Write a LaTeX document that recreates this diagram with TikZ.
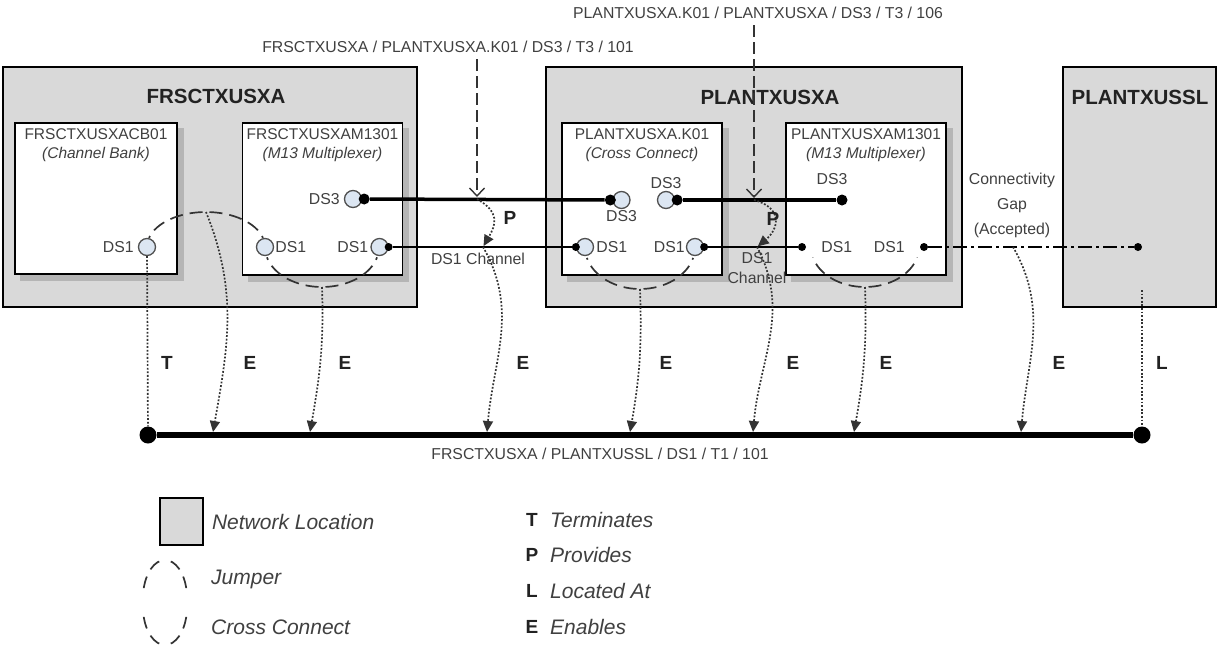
\documentclass[tikz,border=0pt]{standalone}
\usepackage{fontspec}
\setmainfont{Liberation Sans}
\usetikzlibrary{positioning, arrows.meta}
\pgfdeclarelayer{back}
\pgfdeclarelayer{shade}
\pgfsetlayers{back,shade,main}
\definecolor{locGrey}{HTML}{D9D9D9}
\definecolor{shadeGrey}{HTML}{B5B5B5}
\definecolor{inkGrey}{HTML}{404040}
\definecolor{titleInk}{HTML}{222222}
\definecolor{portBlue}{HTML}{DCE6F2}
\definecolor{portRim}{HTML}{505050}
\definecolor{wireGrey}{HTML}{333333}
\tikzset{
  loc/.style    = {draw=black, fill=locGrey, line width=1.6pt, minimum height=240pt, inner sep=0pt},
  dev/.style    = {draw=black, fill=white, line width=1.6pt, inner sep=0pt,
                   minimum width=160pt, minimum height=152pt},
  shd/.style    = {fill=shadeGrey},
  ttl/.style    = {font=\bfseries\fontsize{20.5}{24}\selectfont, text=titleInk, inner sep=0pt},
  devtxt/.style = {font=\fontsize{15.5}{19}\selectfont, text=inkGrey, align=center, inner sep=1pt},
  lbl/.style    = {font=\fontsize{15.8}{25}\selectfont, text=inkGrey, inner sep=1pt, align=center},
  port/.style   = {circle, draw=portRim, fill=portBlue, line width=1.3pt, minimum size=17pt, inner sep=0pt},
  pdot/.style   = {circle, fill=black, minimum size=11pt, inner sep=0pt},
  pdotsm/.style = {circle, fill=black, minimum size=8pt, inner sep=0pt},
  busdot/.style = {circle, fill=black, minimum size=17pt, inner sep=0pt},
  trunk/.style  = {draw=black, line width=3.5pt},
  trib/.style   = {draw=black, line width=2pt},
  gapln/.style  = {draw=black, line width=1.6pt, dash pattern=on 14pt off 4pt on 3pt off 4pt},
  busln/.style  = {draw=black, line width=6pt},
  jmp/.style    = {draw=wireGrey, line width=1.7pt, dash pattern=on 13pt off 7pt, dash phase=16.5pt},
  jmpkey/.style = {draw=wireGrey, line width=1.7pt, dash pattern=on 12pt off 8pt, dash phase=14pt},
  enab/.style   = {draw=wireGrey, line width=1.7pt, dash pattern=on 1.8pt off 1.8pt,
                   -{Triangle[length=11pt, width=10pt]}},
  reln/.style   = {draw=wireGrey, line width=1.7pt, dash pattern=on 1.8pt off 1.8pt},
  prov/.style   = {draw=wireGrey, line width=1.4pt, dash pattern=on 12pt off 5pt,
                   -{Straight Barb[length=8pt, width=15pt]}},
  rl/.style     = {font=\bfseries\fontsize{19}{22}\selectfont, text=titleInk, inner sep=0pt},
  leg/.style    = {font=\itshape\fontsize{21}{24}\selectfont, text=inkGrey, anchor=west, inner sep=0pt},
  legk/.style   = {font=\bfseries\fontsize{19}{24}\selectfont, text=titleInk, inner sep=0pt}
}

\begin{document}
\begin{tikzpicture}[x=1pt, y=1pt]
  \useasboundingbox (0,0) rectangle (1223,-646);

  % network locations
  \begin{pgfonlayer}{back}
    \node[loc, minimum width=414pt] (frs) at (210,-187) {};
    \node[loc, minimum width=416pt] (pla) at (754,-187) {};
    \node[loc, minimum width=153pt] (pll) at (1139.5,-187) {};
  \end{pgfonlayer}
  \node[ttl] (frs-t) at (216,-96) {FRSCTXUSXA};
  \node[ttl] (pla-t) at (770,-97) {PLANTXUSXA};
  \node[ttl] (pll-t) at (1140,-97) {PLANTXUSSL};

  % equipment
  \node[dev, minimum width=162pt, minimum height=151pt] (cb) at (96,-198.5) {};
  \node[dev] (m13a) at (322.5,-199) {};
  \node[dev] (k01) at (642,-199) {};
  \node[dev] (m13b) at (866,-199) {};
  \begin{pgfonlayer}{shade}
    \foreach \d in {cb, m13a, k01, m13b}
      \fill[shd] ([shift={(6,-6)}]\d.south west) rectangle ([shift={(6,-6)}]\d.north east);
  \end{pgfonlayer}
  \node[devtxt, below=5pt of cb.north] (cb-t) {FRSCTXUSXACB01\\\textit{(Channel Bank)}};
  \node[devtxt, below=5pt of m13a.north] (m13a-t) {FRSCTXUSXAM1301\\\textit{(M13 Multiplexer)}};
  \node[devtxt, below=5pt of k01.north] (k01-t) {PLANTXUSXA.K01\\\textit{(Cross Connect)}};
  \node[devtxt, below=5pt of m13b.north] (m13b-t) {PLANTXUSXAM1301\\\textit{(M13 Multiplexer)}};

  % jumper and cross connects
  \coordinate (jA) at (206,-212);
  \coordinate (xA) at (322,-287);
  \coordinate (xK) at (640,-289);
  \coordinate (xB) at (865,-287);
  \draw[jmp] (jA) arc[start angle=90, end angle=165, x radius=59, y radius=35];
  \draw[jmp] (jA) arc[start angle=90, end angle=15, x radius=59, y radius=35];
  \draw[jmp] (xA) arc[start angle=270, end angle=195, x radius=57, y radius=40];
  \draw[jmp] (xA) arc[start angle=270, end angle=345, x radius=57, y radius=40];
  \draw[jmp] (xK) arc[start angle=270, end angle=195, x radius=55, y radius=42];
  \draw[jmp] (xK) arc[start angle=270, end angle=345, x radius=55, y radius=42];
  \draw[jmp] (xB) arc[start angle=270, end angle=195, x radius=54, y radius=40];
  \draw[jmp] (xB) arc[start angle=270, end angle=345, x radius=54, y radius=40];

  % ports
  \node[port] (cb-d1) at (147,-247) {};
  \node[port] (m13a-d3) at (353,-199) {};
  \node[port] (m13a-d1l) at (265,-247) {};
  \node[port] (m13a-d1r) at (379.5,-247) {};
  \node[port] (k01-d3l) at (621.5,-200) {};
  \node[port] (k01-d3r) at (666,-200) {};
  \node[port] (k01-d1l) at (585,-247) {};
  \node[port] (k01-d1r) at (695,-247) {};
  \node[pdot] (m13a-d3x) at ([xshift=2pt]m13a-d3.east) {};
  \node[pdot] (k01-d3lx) at ([xshift=-2pt]k01-d3l.west) {};
  \node[pdot] (k01-d3rx) at ([xshift=2pt]k01-d3r.east) {};
  \node[pdot] (m13b-d3x) at (842,-200) {};
  \node[pdotsm] (m13a-d1rx) at (m13a-d1r.east) {};
  \node[pdotsm] (k01-d1lx) at (k01-d1l.west) {};
  \node[pdotsm] (k01-d1rx) at (k01-d1r.east) {};
  \node[pdotsm] (m13b-d1lx) at (802,-247) {};
  \node[pdotsm] (m13b-d1rx) at (924,-247) {};
  \node[pdotsm] (gapx) at (1138,-247) {};

  \node[lbl, left=3pt of cb-d1] (cb-d1-t) {DS1};
  \node[lbl, left=3pt of m13a-d3] (m13a-d3-t) {DS3};
  \node[lbl, right=0pt of m13a-d1l] (m13a-d1l-t) {DS1};
  \node[lbl, left=1pt of m13a-d1r] (m13a-d1r-t) {DS1};
  \node[lbl, below=0pt of k01-d3l] (k01-d3l-t) {DS3};
  \node[lbl, above=1pt of k01-d3r] (k01-d3r-t) {DS3};
  \node[lbl, right=1pt of k01-d1l] (k01-d1l-t) {DS1};
  \node[lbl, left=0pt of k01-d1r] (k01-d1r-t) {DS1};
  \node[lbl, above=8pt of m13b-d3x, xshift=-10pt] (m13b-d3-t) {DS3};
  \node[lbl, right=14pt of m13b-d1lx] (m13b-d1l-t) {DS1};
  \node[lbl, left=14pt of m13b-d1rx] (m13b-d1r-t) {DS1};

  % trails
  \draw[trunk] (m13a-d3x) -- (k01-d3lx);
  \draw[trunk] (k01-d3rx) -- (m13b-d3x);
  \draw[trib] (m13a-d1rx) -- (k01-d1lx);
  \draw[trib] (k01-d1rx) -- (m13b-d1lx);
  \draw[gapln] (m13b-d1rx) -- (gapx);

  \coordinate (ch1) at (483,-247);
  \coordinate (ch2) at (757,-247);
  \coordinate (gp) at (1013,-247);
  \node[lbl] (ch1-t) at (478,-259) {DS1 Channel};
  \node[lbl, font=\fontsize{15.8}{20}\selectfont] (ch2-t) at (757,-268) {DS1\\Channel};
  \node[lbl] (gp-t) at (1012,-205) {Connectivity\\Gap\\(Accepted)};

  % DS3 trails that provide the channels
  \node[lbl] (vc1) at (448,-47) {FRSCTXUSXA / PLANTXUSXA.K01 / DS3 / T3 / 101};
  \node[lbl] (vc2) at (758,-13) {PLANTXUSXA.K01 / PLANTXUSXA / DS3 / T3 / 106};
  \coordinate (t3a) at (477,-199);
  \coordinate (t3b) at (754,-200);
  \draw[prov, shorten <=5pt, shorten >=2pt] (vc1.south -| t3a) -- (t3a);
  \draw[prov, shorten <=5pt, shorten >=2pt] (vc2.south -| t3b) -- (t3b);
  \draw[enab, shorten >=1pt] (t3a) to[out=-30, in=60, looseness=1.4] (ch1);
  \draw[enab, shorten >=1pt] (t3b) to[out=-15, in=40, looseness=1.6] (ch2);
  \node[rl] (p1) at (510,-218) {P};
  \node[rl] (p2) at (773,-219) {P};

  % DS1 bearer
  \node[busdot] (bA) at (148,-435) {};
  \node[busdot] (bZ) at (1142,-435) {};
  \draw[busln] (bA) -- (bZ);
  \node[lbl] (bus-t) at (600,-454) {FRSCTXUSXA / PLANTXUSSL / DS1 / T1 / 101};

  \coordinate (onb1) at (213,-432);
  \coordinate (onb2) at (310,-432);
  \coordinate (onb3) at (487,-432);
  \coordinate (onb4) at (630,-432);
  \coordinate (onb5) at (753,-432);
  \coordinate (onb6) at (854,-432);
  \coordinate (onb7) at (1021,-432);
  \coordinate (pll-a) at (1142,-290);
  \draw[reln] (cb-d1) -- (bA);
  \draw[reln] (pll-a) -- (bZ);
  \draw[enab] (jA) to[out=-68, in=80] (onb1);
  \draw[enab] (xA) to[out=-88, in=80] (onb2);
  \draw[enab] (ch1) to[out=-60, in=85] (onb3);
  \draw[enab] (xK) to[out=-88, in=80] (onb4);
  \draw[enab] (ch2) to[out=-62, in=85] (onb5);
  \draw[enab] (xB) to[out=-88, in=80] (onb6);
  \draw[enab] (gp) to[out=-60, in=85] (onb7);
  \foreach \x/\r in {167/T, 250/E, 345/E, 523/E, 666/E, 793/E, 886/E, 1059/E, 1162/L}
    \node[rl] (rel-\x) at (\x,-363) {\r};

  % legend
  \node[loc, minimum width=43pt, minimum height=47pt] (key-loc) at (181.5,-521.5) {};
  \node[leg, right=8pt of key-loc] (key-loc-t) {Network Location};
  \coordinate (key-j) at (165,-560);
  \draw[jmpkey] (key-j) arc[start angle=90, end angle=170, x radius=22, y radius=38];
  \draw[jmpkey] (key-j) arc[start angle=90, end angle=10, x radius=22, y radius=38];
  \node[leg] (key-j-t) at (211,-579) {Jumper};
  \coordinate (key-x) at (165,-645);
  \draw[jmpkey] (key-x) arc[start angle=270, end angle=190, x radius=22, y radius=38];
  \draw[jmpkey] (key-x) arc[start angle=270, end angle=350, x radius=22, y radius=38];
  \node[leg] (key-x-t) at (211,-627) {Cross Connect};
  \foreach \y/\k/\w in {520/T/Terminates, 555/P/Provides, 591/L/Located At, 627/E/Enables} {
    \node[legk] (key-\k) at (532,-\y) {\k};
    \node[leg] (key-\k-t) at (550,-\y) {\w};
  }
\end{tikzpicture}
\end{document}
